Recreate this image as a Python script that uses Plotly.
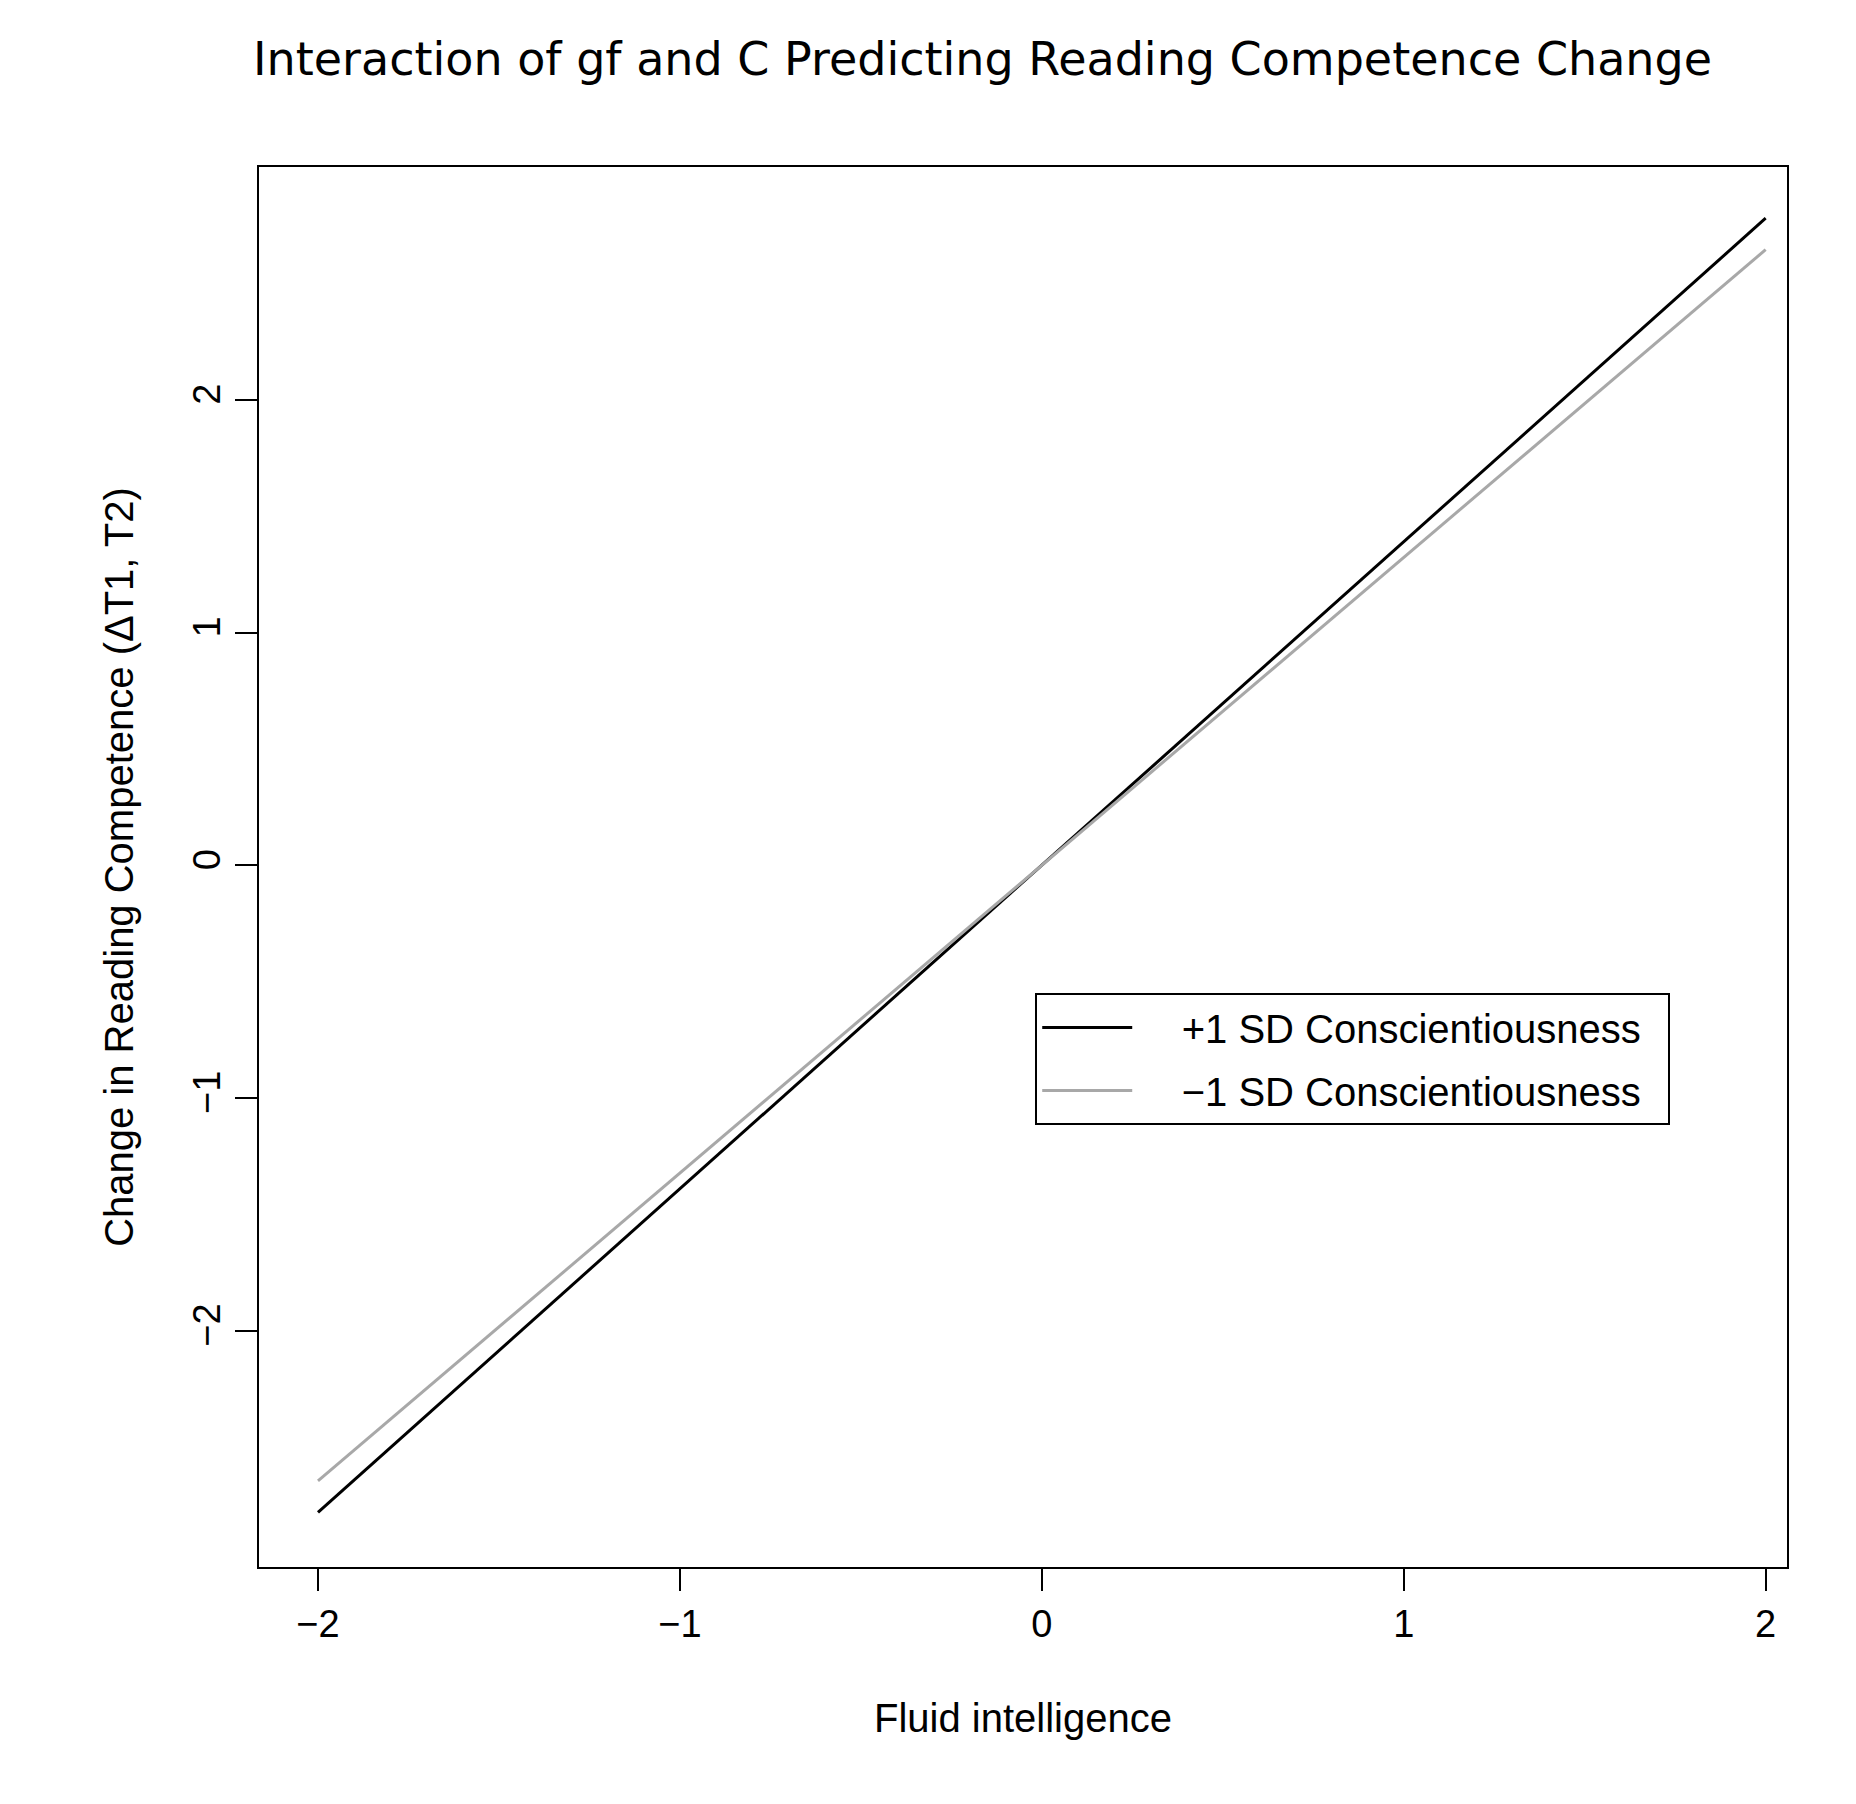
import plotly.graph_objects as go

x_vals = [-2, 2]
high_c = [-2.78, 2.78]
low_c = [-2.645, 2.645]
x_ticks = [-2, -1, 0, 1, 2]
y_ticks = [-2, -1, 0, 1, 2]
tick_text = ["\u22122", "\u22121", "0", "1", "2"]

F = "Liberation Sans, Arial"
fig = go.Figure()
fig.add_trace(go.Scatter(x=x_vals, y=high_c, mode="lines", line=dict(color="black", width=3),
                         name="    +1 SD Conscientiousness  ", legendgroup="a"))
fig.add_trace(go.Scatter(x=x_vals, y=low_c, mode="lines", line=dict(color="#a8a8a8", width=3),
                         name="    \u22121 SD Conscientiousness  ", legendgroup="b"))
fig.update_layout(
    width=1856, height=1804, plot_bgcolor="white", paper_bgcolor="white",
    margin=dict(l=251, r=77, t=159, b=245),
    title=dict(text="Interaction of gf and C Predicting Reading Competence Change",
               x=245/1856, xanchor="left", y=0.972, yanchor="middle",
               font=dict(family="DejaVu Sans, sans-serif", size=46, color="black")),
    legend=dict(x=0.508, y=0.41, xanchor="left", yanchor="top", bordercolor="black", borderwidth=2,
                bgcolor="white", font=dict(family=F, size=40, color="black"), itemwidth=90,
                tracegroupgap=8),
    font=dict(family=F, color="black"),
)
fig.update_xaxes(range=[-2.163, 2.059], tickvals=x_ticks, ticktext=tick_text, ticks="outside",
                 ticklen=22, tickwidth=2, tickcolor="black", showgrid=False, zeroline=False,
                 showline=True, linecolor="black", linewidth=2, mirror=True,
                 tickfont=dict(size=38), title=dict(text="Fluid intelligence", font=dict(size=40), standoff=60))
fig.update_yaxes(range=[-3.015, 3.0], tickvals=y_ticks, ticktext=tick_text, ticks="outside",
                 ticklen=22, tickwidth=2, tickcolor="black", showgrid=False, zeroline=False,
                 showline=True, linecolor="black", linewidth=2, mirror=True, tickangle=-90,
                 tickfont=dict(size=38),
                 title=dict(text="Change in Reading Competence (\u0394T1, T2)", font=dict(size=40), standoff=40))
fig.write_html("out.html")
